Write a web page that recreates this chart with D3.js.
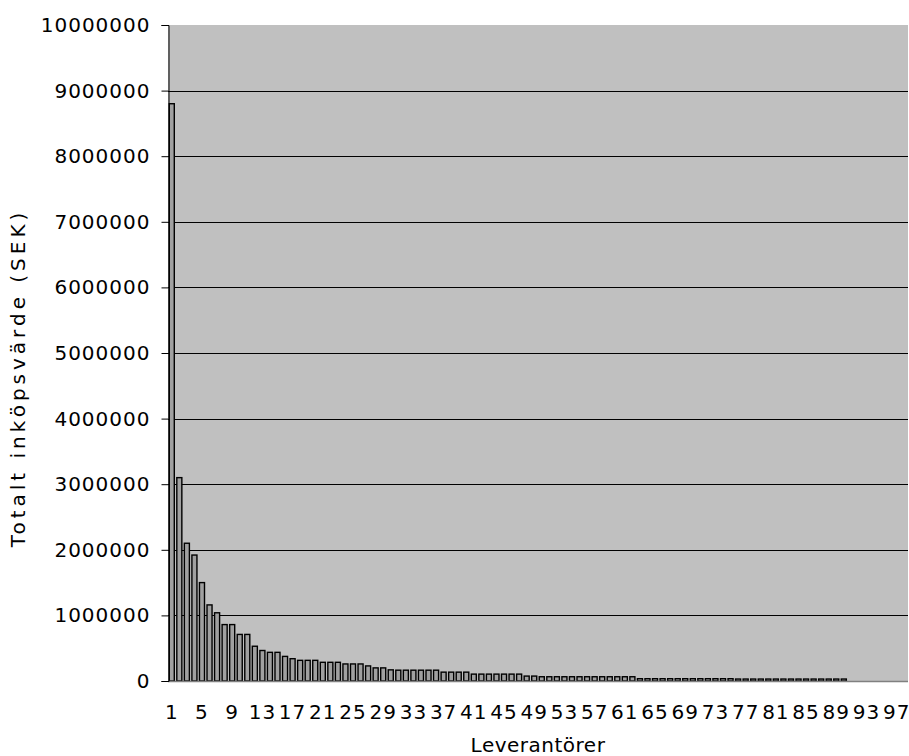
<!DOCTYPE html>
<html>
<head>
<meta charset="utf-8">
<script src="https://cdn.jsdelivr.net/npm/d3@7"></script>
<style>
  body { margin: 0; background: #fff; }
  text { font-family: "DejaVu Sans", Verdana, sans-serif; }
</style>
</head>
<body>
<div id="chart"></div>
<script>
// leverantörer 1..98, totalt inköpsvärde (SEK)
const suppliers = d3.range(1, 99);
const values = [
  8800000, 3100000, 2100000, 1920000, 1500000, 1160000, 1040000, 860000, 860000, 710000,
  710000, 530000, 465000, 437000, 437000, 375000, 340000, 315000, 315000, 315000,
  285000, 285000, 285000, 260000, 260000, 260000, 230000, 200000, 200000, 170000,
  165000, 165000, 165000, 165000, 165000, 165000, 135000, 135000, 135000, 135000,
  105000, 105000, 105000, 105000, 105000, 105000, 105000, 75000, 75000, 65000,
  65000, 65000, 65000, 65000, 65000, 65000, 65000, 65000, 65000, 65000,
  65000, 65000, 35000, 35000, 35000, 35000, 35000, 35000, 35000, 35000,
  35000, 35000, 35000, 35000, 35000, 30000, 30000, 30000, 30000, 30000,
  30000, 30000, 30000, 30000, 30000, 30000, 30000, 30000, 30000, 30000,
  0, 0, 0, 0, 0, 0, 0, 0
];
const yTicks = d3.range(0, 10000001, 1000000);
const xTickLabels = suppliers.filter(d => (d - 1) % 4 === 0);

const width = 909;
const height = 756;
const plot = { left: 168, right: 908, top: 25, bottom: 681 };

const svg = d3.select('#chart')
  .append('svg')
  .attr('width', width)
  .attr('height', height);

const xScale = d3.scaleBand()
  .domain(suppliers)
  .range([plot.left, plot.right])
  .paddingInner(1 / 3)
  .paddingOuter(1 / 6);

const yScale = d3.scaleLinear()
  .domain([0, 10000000])
  .range([plot.bottom, plot.top]);

// plot area
svg.append('rect')
  .attr('x', plot.left)
  .attr('y', plot.top)
  .attr('width', plot.right - plot.left)
  .attr('height', plot.bottom - plot.top)
  .attr('fill', '#c0c0c0');

// gridlines
svg.append('g')
  .selectAll('line')
  .data(yTicks.filter(d => d > 0 && d < 10000000))
  .join('line')
  .attr('x1', plot.left)
  .attr('x2', plot.right)
  .attr('y1', d => Math.round(yScale(d)) + 0.5)
  .attr('y2', d => Math.round(yScale(d)) + 0.5)
  .attr('stroke', '#000')
  .attr('stroke-width', 1);

// bars
svg.append('g')
  .selectAll('rect')
  .data(values.map((v, i) => [suppliers[i], v]))
  .join('rect')
  .attr('x', d => xScale(d[0]))
  .attr('y', d => yScale(d[1]))
  .attr('width', xScale.bandwidth())
  .attr('height', d => yScale(0) - yScale(d[1]))
  .attr('fill', '#a0a0a0')
  .attr('stroke', '#000')
  .attr('stroke-width', 1.4);

// x axis line
svg.append('line')
  .attr('x1', plot.left)
  .attr('x2', plot.right)
  .attr('y1', plot.bottom + 0.5)
  .attr('y2', plot.bottom + 0.5)
  .attr('stroke', '#808080')
  .attr('stroke-width', 1.5);

// y axis
const yAxis = d3.axisLeft(yScale)
  .tickValues(yTicks)
  .tickSize(7)
  .tickPadding(11)
  .tickFormat(d3.format('d'));

svg.append('g')
  .attr('transform', `translate(${plot.left + 0.5}, 0)`)
  .call(yAxis)
  .call(g => g.select('.domain').attr('stroke', '#000'))
  .call(g => g.selectAll('text')
    .attr('font-size', 20)
    .attr('letter-spacing', 1)
    .attr('fill', '#000')
    .attr('font-family', '"DejaVu Sans", Verdana, sans-serif'));

// x tick labels
const xAxis = d3.axisBottom(xScale)
  .tickValues(xTickLabels)
  .tickSize(0)
  .tickPadding(24);

svg.append('g')
  .attr('transform', `translate(0, ${plot.bottom})`)
  .call(xAxis)
  .call(g => g.select('.domain').remove())
  .call(g => g.selectAll('text')
    .attr('font-size', 20)
    .attr('letter-spacing', 1)
    .attr('fill', '#000')
    .attr('font-family', '"DejaVu Sans", Verdana, sans-serif'));

// axis titles
svg.append('text')
  .attr('x', (plot.left + plot.right) / 2)
  .attr('y', 752)
  .attr('text-anchor', 'middle')
  .attr('font-size', 20)
  .attr('letter-spacing', 0.5)
  .attr('fill', '#000')
  .text('Leverantörer');

svg.append('text')
  .attr('transform', 'rotate(-90)')
  .attr('x', -(plot.top + plot.bottom) / 2 - 25)
  .attr('y', 25)
  .attr('text-anchor', 'middle')
  .attr('font-size', 20)
  .attr('letter-spacing', 4)
  .attr('fill', '#000')
  .text('Totalt inköpsvärde (SEK)');
</script>
</body>
</html>
